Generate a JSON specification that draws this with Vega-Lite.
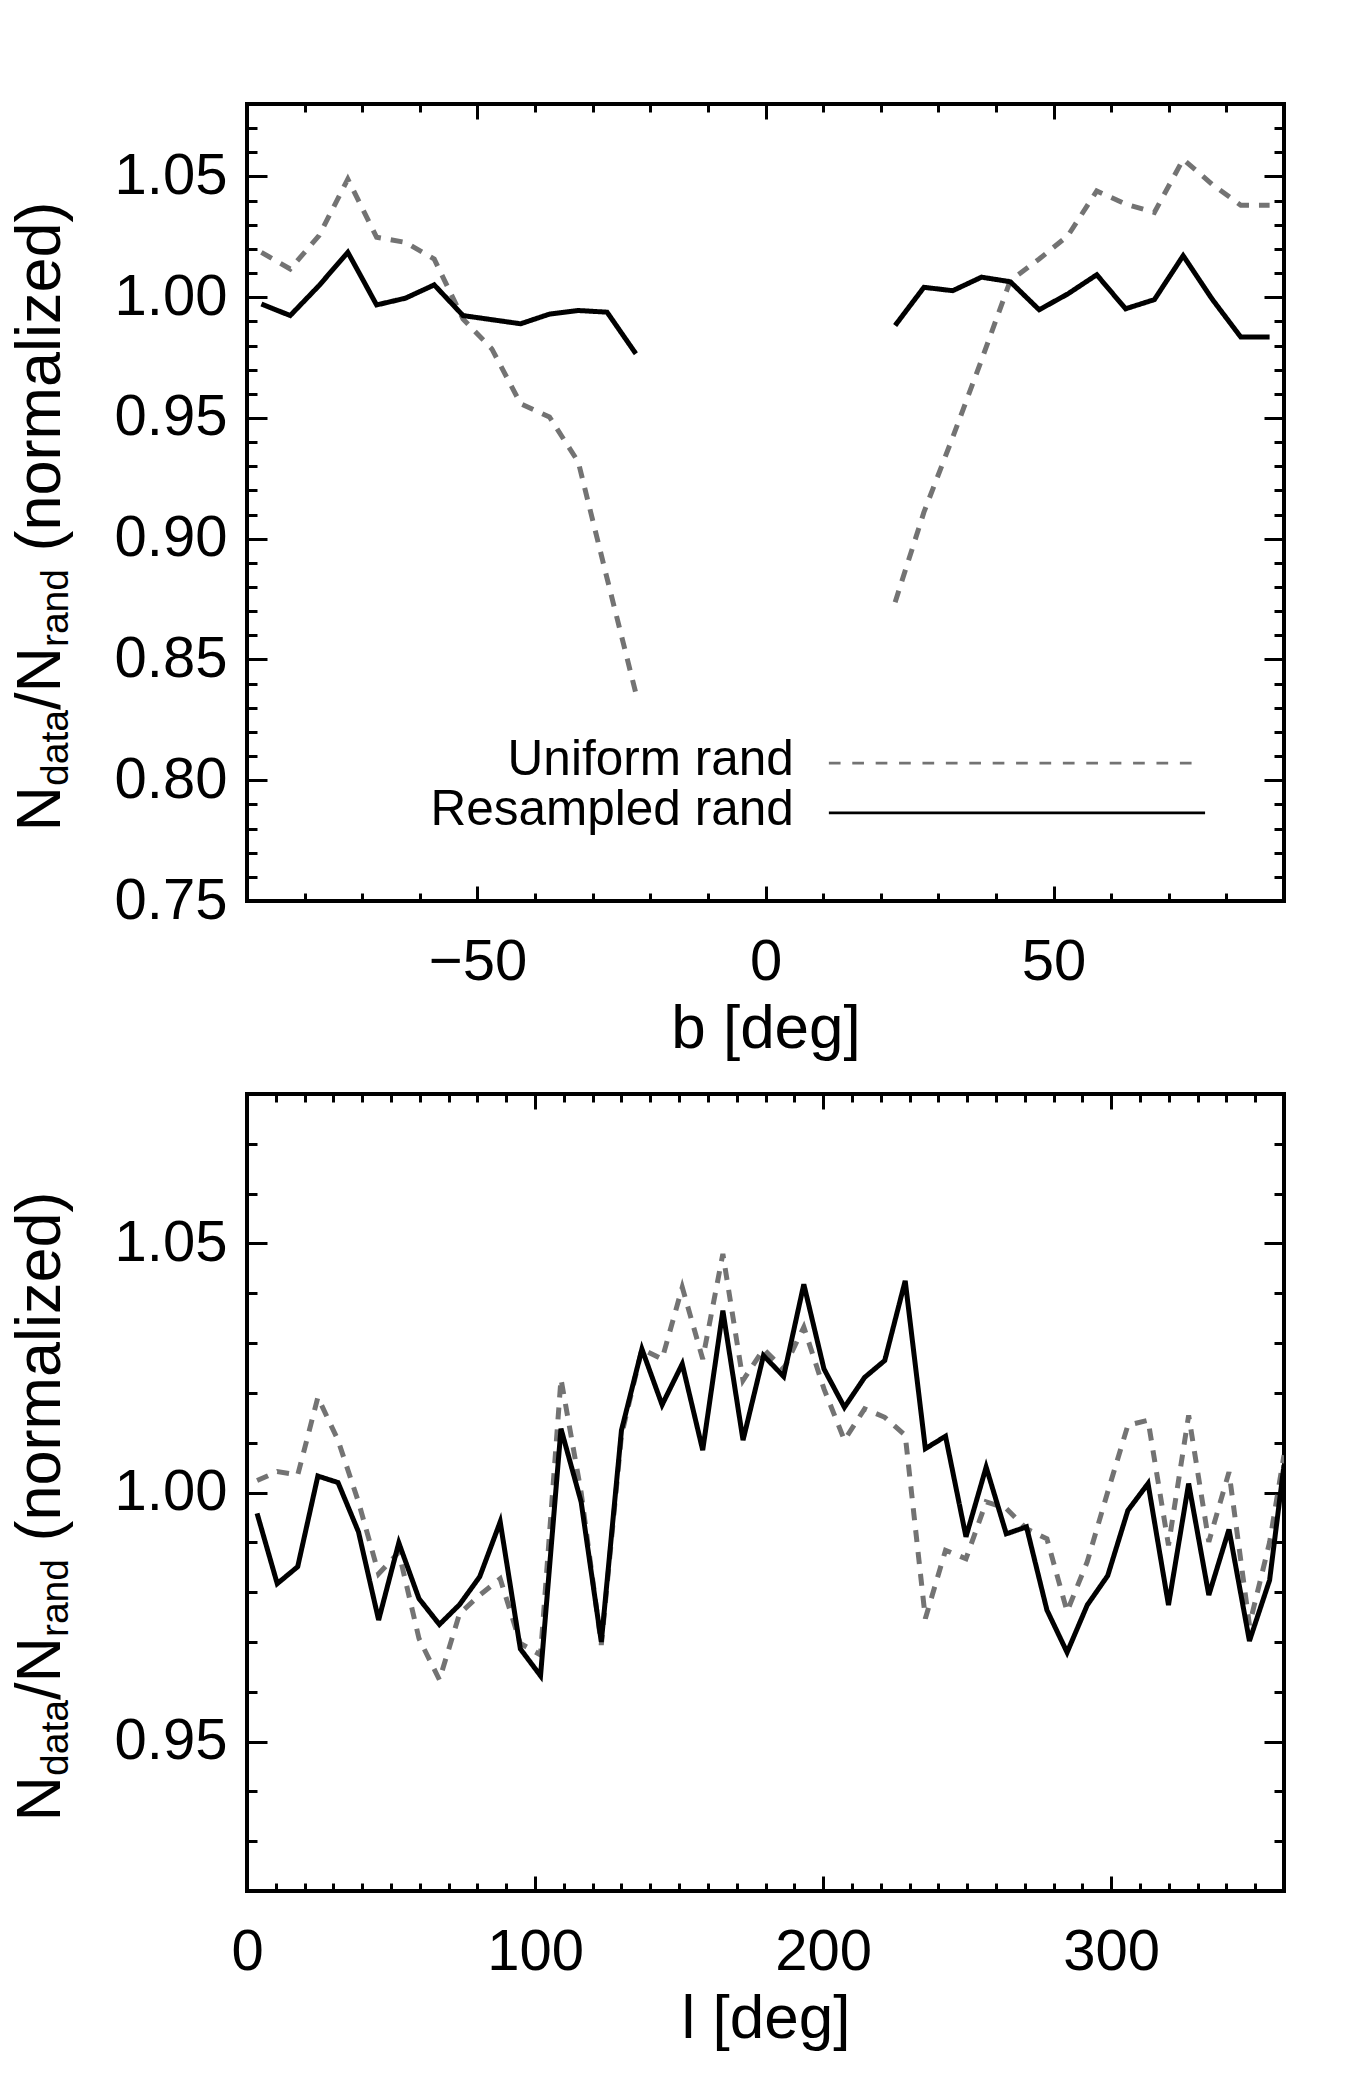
{
  "$schema": "https://vega.github.io/schema/vega-lite/v6.json",
  "background": "white",
  "autosize": {"type": "pad"},
  "padding": {"left": 6, "top": 100, "right": 0, "bottom": 0},
  "spacing": 29,
  "config": {
    "font": "Liberation Sans",
    "view": {"stroke": "#000000", "strokeWidth": 4},
    "axis": {
      "labelFont": "Liberation Sans", "titleFont": "Liberation Sans",
      "labelColor": "#000000", "titleColor": "#000000", "tickColor": "#000000",
      "tickWidth": 3, "grid": false, "domain": false, "labels": false, "ticks": false,
      "labelFlush": false, "labelOverlap": false, "titleFontWeight": "normal"
    }
  },
  "datasets": {
    "lat": [
      {"b": -87.5, "side": "S", "series": "Uniform rand", "ratio": 1.0186},
      {"b": -82.5, "side": "S", "series": "Uniform rand", "ratio": 1.0117},
      {"b": -77.5, "side": "S", "series": "Uniform rand", "ratio": 1.0255},
      {"b": -72.5, "side": "S", "series": "Uniform rand", "ratio": 1.0489},
      {"b": -67.5, "side": "S", "series": "Uniform rand", "ratio": 1.0248},
      {"b": -62.5, "side": "S", "series": "Uniform rand", "ratio": 1.0227},
      {"b": -57.5, "side": "S", "series": "Uniform rand", "ratio": 1.0158},
      {"b": -52.5, "side": "S", "series": "Uniform rand", "ratio": 0.991},
      {"b": -47.5, "side": "S", "series": "Uniform rand", "ratio": 0.9786},
      {"b": -42.5, "side": "S", "series": "Uniform rand", "ratio": 0.9559},
      {"b": -37.5, "side": "S", "series": "Uniform rand", "ratio": 0.9504},
      {"b": -32.5, "side": "S", "series": "Uniform rand", "ratio": 0.9318},
      {"b": -27.5, "side": "S", "series": "Uniform rand", "ratio": 0.8836},
      {"b": -22.5, "side": "S", "series": "Uniform rand", "ratio": 0.836},
      {"b": 22.5, "side": "N", "series": "Uniform rand", "ratio": 0.8737},
      {"b": 27.5, "side": "N", "series": "Uniform rand", "ratio": 0.911},
      {"b": 32.5, "side": "N", "series": "Uniform rand", "ratio": 0.942},
      {"b": 37.5, "side": "N", "series": "Uniform rand", "ratio": 0.974},
      {"b": 42.5, "side": "N", "series": "Uniform rand", "ratio": 1.0069},
      {"b": 47.5, "side": "N", "series": "Uniform rand", "ratio": 1.0158},
      {"b": 52.5, "side": "N", "series": "Uniform rand", "ratio": 1.0255},
      {"b": 57.5, "side": "N", "series": "Uniform rand", "ratio": 1.044},
      {"b": 62.5, "side": "N", "series": "Uniform rand", "ratio": 1.0386},
      {"b": 67.5, "side": "N", "series": "Uniform rand", "ratio": 1.0351},
      {"b": 72.5, "side": "N", "series": "Uniform rand", "ratio": 1.0571},
      {"b": 77.5, "side": "N", "series": "Uniform rand", "ratio": 1.0468},
      {"b": 82.5, "side": "N", "series": "Uniform rand", "ratio": 1.0381},
      {"b": 87.5, "side": "N", "series": "Uniform rand", "ratio": 1.0381},
      {"b": -87.5, "side": "S", "series": "Resampled rand", "ratio": 0.9972},
      {"b": -82.5, "side": "S", "series": "Resampled rand", "ratio": 0.9924},
      {"b": -77.5, "side": "S", "series": "Resampled rand", "ratio": 1.0048},
      {"b": -72.5, "side": "S", "series": "Resampled rand", "ratio": 1.0186},
      {"b": -67.5, "side": "S", "series": "Resampled rand", "ratio": 0.9968},
      {"b": -62.5, "side": "S", "series": "Resampled rand", "ratio": 0.9996},
      {"b": -57.5, "side": "S", "series": "Resampled rand", "ratio": 1.0051},
      {"b": -52.5, "side": "S", "series": "Resampled rand", "ratio": 0.9924},
      {"b": -47.5, "side": "S", "series": "Resampled rand", "ratio": 0.9907},
      {"b": -42.5, "side": "S", "series": "Resampled rand", "ratio": 0.989},
      {"b": -37.5, "side": "S", "series": "Resampled rand", "ratio": 0.993},
      {"b": -32.5, "side": "S", "series": "Resampled rand", "ratio": 0.9945},
      {"b": -27.5, "side": "S", "series": "Resampled rand", "ratio": 0.9938},
      {"b": -22.5, "side": "S", "series": "Resampled rand", "ratio": 0.9766},
      {"b": 22.5, "side": "N", "series": "Resampled rand", "ratio": 0.9883},
      {"b": 27.5, "side": "N", "series": "Resampled rand", "ratio": 1.0041},
      {"b": 32.5, "side": "N", "series": "Resampled rand", "ratio": 1.0027},
      {"b": 37.5, "side": "N", "series": "Resampled rand", "ratio": 1.0083},
      {"b": 42.5, "side": "N", "series": "Resampled rand", "ratio": 1.0064},
      {"b": 47.5, "side": "N", "series": "Resampled rand", "ratio": 0.9948},
      {"b": 52.5, "side": "N", "series": "Resampled rand", "ratio": 1.0014},
      {"b": 57.5, "side": "N", "series": "Resampled rand", "ratio": 1.0093},
      {"b": 62.5, "side": "N", "series": "Resampled rand", "ratio": 0.9952},
      {"b": 67.5, "side": "N", "series": "Resampled rand", "ratio": 0.999},
      {"b": 72.5, "side": "N", "series": "Resampled rand", "ratio": 1.0172},
      {"b": 77.5, "side": "N", "series": "Resampled rand", "ratio": 0.9993},
      {"b": 82.5, "side": "N", "series": "Resampled rand", "ratio": 0.9835},
      {"b": 87.5, "side": "N", "series": "Resampled rand", "ratio": 0.9835}
    ],
    "lon": [
      {"l": 3.5, "series": "Uniform rand", "ratio": 1.0024},
      {"l": 10.5, "series": "Uniform rand", "ratio": 1.0042},
      {"l": 17.6, "series": "Uniform rand", "ratio": 1.0035},
      {"l": 24.6, "series": "Uniform rand", "ratio": 1.0191},
      {"l": 31.6, "series": "Uniform rand", "ratio": 1.0105},
      {"l": 38.7, "series": "Uniform rand", "ratio": 0.9981},
      {"l": 45.7, "series": "Uniform rand", "ratio": 0.9837},
      {"l": 52.7, "series": "Uniform rand", "ratio": 0.988},
      {"l": 59.7, "series": "Uniform rand", "ratio": 0.9707},
      {"l": 66.8, "series": "Uniform rand", "ratio": 0.9624},
      {"l": 73.8, "series": "Uniform rand", "ratio": 0.9757},
      {"l": 80.8, "series": "Uniform rand", "ratio": 0.9794},
      {"l": 87.9, "series": "Uniform rand", "ratio": 0.9827},
      {"l": 94.9, "series": "Uniform rand", "ratio": 0.9697},
      {"l": 101.9, "series": "Uniform rand", "ratio": 0.9674},
      {"l": 109.0, "series": "Uniform rand", "ratio": 1.0228},
      {"l": 116.0, "series": "Uniform rand", "ratio": 1.0},
      {"l": 123.0, "series": "Uniform rand", "ratio": 0.9694},
      {"l": 130.0, "series": "Uniform rand", "ratio": 1.0115},
      {"l": 137.1, "series": "Uniform rand", "ratio": 1.0288},
      {"l": 144.1, "series": "Uniform rand", "ratio": 1.0268},
      {"l": 151.1, "series": "Uniform rand", "ratio": 1.0412},
      {"l": 158.2, "series": "Uniform rand", "ratio": 1.0268},
      {"l": 165.2, "series": "Uniform rand", "ratio": 1.0479},
      {"l": 172.2, "series": "Uniform rand", "ratio": 1.0225},
      {"l": 179.3, "series": "Uniform rand", "ratio": 1.0288},
      {"l": 186.3, "series": "Uniform rand", "ratio": 1.0248},
      {"l": 193.3, "series": "Uniform rand", "ratio": 1.0332},
      {"l": 200.3, "series": "Uniform rand", "ratio": 1.0208},
      {"l": 207.4, "series": "Uniform rand", "ratio": 1.0105},
      {"l": 214.4, "series": "Uniform rand", "ratio": 1.0168},
      {"l": 221.4, "series": "Uniform rand", "ratio": 1.0151},
      {"l": 228.5, "series": "Uniform rand", "ratio": 1.0115},
      {"l": 235.5, "series": "Uniform rand", "ratio": 0.9747},
      {"l": 242.5, "series": "Uniform rand", "ratio": 0.9884},
      {"l": 249.6, "series": "Uniform rand", "ratio": 0.9867},
      {"l": 256.6, "series": "Uniform rand", "ratio": 0.9981},
      {"l": 263.6, "series": "Uniform rand", "ratio": 0.9968},
      {"l": 270.6, "series": "Uniform rand", "ratio": 0.9927},
      {"l": 277.7, "series": "Uniform rand", "ratio": 0.9907},
      {"l": 284.7, "series": "Uniform rand", "ratio": 0.9761},
      {"l": 291.7, "series": "Uniform rand", "ratio": 0.9861},
      {"l": 298.8, "series": "Uniform rand", "ratio": 1.0001},
      {"l": 305.8, "series": "Uniform rand", "ratio": 1.0135},
      {"l": 312.8, "series": "Uniform rand", "ratio": 1.0145},
      {"l": 319.9, "series": "Uniform rand", "ratio": 0.9894},
      {"l": 326.9, "series": "Uniform rand", "ratio": 1.0155},
      {"l": 333.9, "series": "Uniform rand", "ratio": 0.9901},
      {"l": 340.9, "series": "Uniform rand", "ratio": 1.0041},
      {"l": 348.0, "series": "Uniform rand", "ratio": 0.9734},
      {"l": 355.0, "series": "Uniform rand", "ratio": 0.99},
      {"l": 360.0, "series": "Uniform rand", "ratio": 1.0075},
      {"l": 3.5, "series": "Resampled rand", "ratio": 0.9958},
      {"l": 10.5, "series": "Resampled rand", "ratio": 0.9817},
      {"l": 17.6, "series": "Resampled rand", "ratio": 0.9851},
      {"l": 24.6, "series": "Resampled rand", "ratio": 1.0033},
      {"l": 31.6, "series": "Resampled rand", "ratio": 1.002},
      {"l": 38.7, "series": "Resampled rand", "ratio": 0.9921},
      {"l": 45.7, "series": "Resampled rand", "ratio": 0.9744},
      {"l": 52.7, "series": "Resampled rand", "ratio": 0.9899},
      {"l": 59.7, "series": "Resampled rand", "ratio": 0.9787},
      {"l": 66.8, "series": "Resampled rand", "ratio": 0.9735},
      {"l": 73.8, "series": "Resampled rand", "ratio": 0.9775},
      {"l": 80.8, "series": "Resampled rand", "ratio": 0.9831},
      {"l": 87.9, "series": "Resampled rand", "ratio": 0.9941},
      {"l": 94.9, "series": "Resampled rand", "ratio": 0.9686},
      {"l": 101.9, "series": "Resampled rand", "ratio": 0.9632},
      {"l": 109.0, "series": "Resampled rand", "ratio": 1.0128},
      {"l": 116.0, "series": "Resampled rand", "ratio": 0.9981},
      {"l": 123.0, "series": "Resampled rand", "ratio": 0.97},
      {"l": 130.0, "series": "Resampled rand", "ratio": 1.0125},
      {"l": 137.1, "series": "Resampled rand", "ratio": 1.0288},
      {"l": 144.1, "series": "Resampled rand", "ratio": 1.0176},
      {"l": 151.1, "series": "Resampled rand", "ratio": 1.0258},
      {"l": 158.2, "series": "Resampled rand", "ratio": 1.0085},
      {"l": 165.2, "series": "Resampled rand", "ratio": 1.0365},
      {"l": 172.2, "series": "Resampled rand", "ratio": 1.0105},
      {"l": 179.3, "series": "Resampled rand", "ratio": 1.0275},
      {"l": 186.3, "series": "Resampled rand", "ratio": 1.0233},
      {"l": 193.3, "series": "Resampled rand", "ratio": 1.0418},
      {"l": 200.3, "series": "Resampled rand", "ratio": 1.0248},
      {"l": 207.4, "series": "Resampled rand", "ratio": 1.0171},
      {"l": 214.4, "series": "Resampled rand", "ratio": 1.0231},
      {"l": 221.4, "series": "Resampled rand", "ratio": 1.0265},
      {"l": 228.5, "series": "Resampled rand", "ratio": 1.0425},
      {"l": 235.5, "series": "Resampled rand", "ratio": 1.0088},
      {"l": 242.5, "series": "Resampled rand", "ratio": 1.0113},
      {"l": 249.6, "series": "Resampled rand", "ratio": 0.9911},
      {"l": 256.6, "series": "Resampled rand", "ratio": 1.0051},
      {"l": 263.6, "series": "Resampled rand", "ratio": 0.9917},
      {"l": 270.6, "series": "Resampled rand", "ratio": 0.9931},
      {"l": 277.7, "series": "Resampled rand", "ratio": 0.9764},
      {"l": 284.7, "series": "Resampled rand", "ratio": 0.9679},
      {"l": 291.7, "series": "Resampled rand", "ratio": 0.9774},
      {"l": 298.8, "series": "Resampled rand", "ratio": 0.9833},
      {"l": 305.8, "series": "Resampled rand", "ratio": 0.9964},
      {"l": 312.8, "series": "Resampled rand", "ratio": 1.0018},
      {"l": 319.9, "series": "Resampled rand", "ratio": 0.9774},
      {"l": 326.9, "series": "Resampled rand", "ratio": 1.0018},
      {"l": 333.9, "series": "Resampled rand", "ratio": 0.9794},
      {"l": 340.9, "series": "Resampled rand", "ratio": 0.9926},
      {"l": 348.0, "series": "Resampled rand", "ratio": 0.9702},
      {"l": 355.0, "series": "Resampled rand", "ratio": 0.9824},
      {"l": 360.0, "series": "Resampled rand", "ratio": 1.0055}
    ]
  },
  "vconcat": [
    {
      "width": 1037,
      "height": 797,
      "data": {"name": "lat"},
      "resolve": {"axis": {"x": "independent", "y": "independent"}},
      "layer": [
        {
          "mark": {"type": "line", "strokeWidth": 5, "clip": true},
          "encoding": {
            "x": {"field": "b", "type": "quantitative",
              "scale": {"domain": [-90, 90], "nice": false, "zero": false},
              "axis": {"orient": "bottom", "values": [-50, 0, 50], "labels": true, "format": "d",
                "labelFontSize": 58, "labelPadding": 32,
                "title": "b [deg]", "titleFontSize": 62, "titleY": 146, "titleBaseline": "alphabetic"}},
            "y": {"field": "ratio", "type": "quantitative",
              "scale": {"domain": [0.75, 1.08], "nice": false, "zero": false},
              "axis": {"orient": "left", "values": [0.75, 0.8, 0.85, 0.9, 0.95, 1.0, 1.05], "labels": true, "format": ".2f",
                "labelFontSize": 58, "labelPadding": 20,
                "title": "N", "titleFontSize": 63, "titleAngle": 270, "titleAlign": "left", "titleBaseline": "alphabetic",
                "titleX": -188, "titleY": 727}},
            "color": {"field": "series", "type": "nominal",
              "scale": {"domain": ["Uniform rand", "Resampled rand"], "range": ["#737373", "#000000"]}, "legend": null},
            "strokeDash": {"field": "series", "type": "nominal",
              "scale": {"domain": ["Uniform rand", "Resampled rand"], "range": [[12, 10], [1, 0]]}, "legend": null},
            "detail": {"field": "side"}
          }
        },
        {
          "mark": {"type": "point", "opacity": 0},
          "encoding": {
            "x": {"field": "b", "type": "quantitative",
              "axis": {"orient": "top", "ticks": true, "title": null,
                "values": [-90, -80, -70, -60, -50, -40, -30, -20, -10, 0, 10, 20, 30, 40, 50, 60, 70, 80, 90],
                "tickSize": {"condition": {"test": "datum.value % 50 == 0", "value": -15}, "value": -8}}},
            "y": {"field": "ratio", "type": "quantitative",
              "axis": {"orient": "right", "ticks": true, "title": null,
                "values": [0.75, 0.76, 0.77, 0.78, 0.79, 0.8, 0.81, 0.82, 0.83, 0.84, 0.85, 0.86, 0.87, 0.88, 0.89, 0.9, 0.91, 0.92, 0.93, 0.94, 0.95, 0.96, 0.97, 0.98, 0.99, 1.0, 1.01, 1.02, 1.03, 1.04, 1.05, 1.06, 1.07, 1.08],
                "tickSize": {"condition": {"test": "abs(round(datum.value * 100) % 5) == 0", "value": -20}, "value": -10}}}
          }
        },
        {
          "mark": {"type": "point", "opacity": 0},
          "encoding": {
            "x": {"field": "b", "type": "quantitative",
              "axis": {"orient": "bottom", "ticks": true, "title": null,
                "values": [-90, -80, -70, -60, -50, -40, -30, -20, -10, 0, 10, 20, 30, 40, 50, 60, 70, 80, 90],
                "tickSize": {"condition": {"test": "datum.value % 50 == 0", "value": -15}, "value": -8}}},
            "y": {"field": "ratio", "type": "quantitative",
              "axis": {"orient": "left", "ticks": true,
                "values": [0.75, 0.76, 0.77, 0.78, 0.79, 0.8, 0.81, 0.82, 0.83, 0.84, 0.85, 0.86, 0.87, 0.88, 0.89, 0.9, 0.91, 0.92, 0.93, 0.94, 0.95, 0.96, 0.97, 0.98, 0.99, 1.0, 1.01, 1.02, 1.03, 1.04, 1.05, 1.06, 1.07, 1.08],
                "tickSize": {"condition": {"test": "abs(round(datum.value * 100) % 5) == 0", "value": -20}, "value": -10},
                "title": "data", "titleFontSize": 39, "titleAngle": 270, "titleAlign": "left", "titleBaseline": "alphabetic",
                "titleX": -180, "titleY": 681.5}}
          }
        },
        {
          "mark": {"type": "point", "opacity": 0},
          "encoding": {
            "x": {"field": "b", "type": "quantitative", "axis": null},
            "y": {"field": "ratio", "type": "quantitative",
              "axis": {"orient": "left", "title": "/N", "titleFontSize": 63, "titleAngle": 270, "titleAlign": "left",
                "titleBaseline": "alphabetic", "titleX": -188, "titleY": 605.6}}
          }
        },
        {
          "mark": {"type": "point", "opacity": 0},
          "encoding": {
            "x": {"field": "b", "type": "quantitative", "axis": null},
            "y": {"field": "ratio", "type": "quantitative",
              "axis": {"orient": "left", "title": "rand", "titleFontSize": 39, "titleAngle": 270, "titleAlign": "left",
                "titleBaseline": "alphabetic", "titleX": -180, "titleY": 542.6}}
          }
        },
        {
          "mark": {"type": "point", "opacity": 0},
          "encoding": {
            "x": {"field": "b", "type": "quantitative", "axis": null},
            "y": {"field": "ratio", "type": "quantitative",
              "axis": {"orient": "left", "title": "(normalized)", "titleFontSize": 63, "titleAngle": 270, "titleAlign": "left",
                "titleBaseline": "alphabetic", "titleX": -188, "titleY": 447.1}}
          }
        },
        {
          "data": {"values": [{"series": "Uniform rand"}]},
          "mark": {"type": "rule", "color": "#737373", "strokeWidth": 2.7, "strokeDash": [11.7, 11.7]},
          "encoding": {
            "x": {"datum": 11.0, "type": "quantitative", "axis": null},
            "x2": {"datum": 74.4},
            "y": {"datum": 0.8071, "type": "quantitative", "axis": null}
          }
        },
        {
          "data": {"values": [{"series": "Resampled rand"}]},
          "mark": {"type": "rule", "color": "#000000", "strokeWidth": 2.7},
          "encoding": {
            "x": {"datum": 11.0, "type": "quantitative", "axis": null},
            "x2": {"datum": 76.3},
            "y": {"datum": 0.7865, "type": "quantitative", "axis": null}
          }
        },
        {
          "data": {"values": [{"series": "Uniform rand"}]},
          "mark": {"type": "text", "align": "right", "baseline": "alphabetic", "fontSize": 49.5, "font": "Liberation Sans", "color": "#000000"},
          "encoding": {
            "x": {"datum": 4.9, "type": "quantitative", "axis": null},
            "y": {"datum": 0.8022, "type": "quantitative", "axis": null},
            "text": {"field": "series"}
          }
        },
        {
          "data": {"values": [{"series": "Resampled rand"}]},
          "mark": {"type": "text", "align": "right", "baseline": "alphabetic", "fontSize": 49.5, "font": "Liberation Sans", "color": "#000000"},
          "encoding": {
            "x": {"datum": 4.9, "type": "quantitative", "axis": null},
            "y": {"datum": 0.7816, "type": "quantitative", "axis": null},
            "text": {"field": "series"}
          }
        }
      ]
    },
    {
      "width": 1037,
      "height": 797,
      "data": {"name": "lon"},
      "resolve": {"axis": {"x": "independent", "y": "independent"}},
      "layer": [
        {
          "mark": {"type": "line", "strokeWidth": 5, "clip": true},
          "encoding": {
            "x": {"field": "l", "type": "quantitative",
              "scale": {"domain": [0, 360], "nice": false, "zero": false},
              "axis": {"orient": "bottom", "values": [0, 100, 200, 300], "labels": true, "format": "d",
                "labelFontSize": 58, "labelPadding": 32,
                "title": "l [deg]", "titleFontSize": 62, "titleY": 146, "titleBaseline": "alphabetic"}},
            "y": {"field": "ratio", "type": "quantitative",
              "scale": {"domain": [0.92, 1.08], "nice": false, "zero": false},
              "axis": {"orient": "left", "values": [0.95, 1.0, 1.05], "labels": true, "format": ".2f",
                "labelFontSize": 58, "labelPadding": 20,
                "title": "N", "titleFontSize": 63, "titleAngle": 270, "titleAlign": "left", "titleBaseline": "alphabetic",
                "titleX": -188, "titleY": 727}},
            "color": {"field": "series", "type": "nominal",
              "scale": {"domain": ["Uniform rand", "Resampled rand"], "range": ["#737373", "#000000"]}, "legend": null},
            "strokeDash": {"field": "series", "type": "nominal",
              "scale": {"domain": ["Uniform rand", "Resampled rand"], "range": [[12, 10], [1, 0]]}, "legend": null}
          }
        },
        {
          "mark": {"type": "point", "opacity": 0},
          "encoding": {
            "x": {"field": "l", "type": "quantitative",
              "axis": {"orient": "top", "ticks": true, "title": null,
                "values": [0, 10, 20, 30, 40, 50, 60, 70, 80, 90, 100, 110, 120, 130, 140, 150, 160, 170, 180, 190, 200, 210, 220, 230, 240, 250, 260, 270, 280, 290, 300, 310, 320, 330, 340, 350, 360],
                "tickSize": {"condition": {"test": "datum.value % 100 == 0", "value": -15}, "value": -8}}},
            "y": {"field": "ratio", "type": "quantitative",
              "axis": {"orient": "right", "ticks": true, "title": null,
                "values": [0.92, 0.93, 0.94, 0.95, 0.96, 0.97, 0.98, 0.99, 1.0, 1.01, 1.02, 1.03, 1.04, 1.05, 1.06, 1.07, 1.08],
                "tickSize": {"condition": {"test": "abs(round(datum.value * 100) % 5) == 0", "value": -20}, "value": -10}}}
          }
        },
        {
          "mark": {"type": "point", "opacity": 0},
          "encoding": {
            "x": {"field": "l", "type": "quantitative",
              "axis": {"orient": "bottom", "ticks": true, "title": null,
                "values": [0, 10, 20, 30, 40, 50, 60, 70, 80, 90, 100, 110, 120, 130, 140, 150, 160, 170, 180, 190, 200, 210, 220, 230, 240, 250, 260, 270, 280, 290, 300, 310, 320, 330, 340, 350, 360],
                "tickSize": {"condition": {"test": "datum.value % 100 == 0", "value": -15}, "value": -8}}},
            "y": {"field": "ratio", "type": "quantitative",
              "axis": {"orient": "left", "ticks": true,
                "values": [0.92, 0.93, 0.94, 0.95, 0.96, 0.97, 0.98, 0.99, 1.0, 1.01, 1.02, 1.03, 1.04, 1.05, 1.06, 1.07, 1.08],
                "tickSize": {"condition": {"test": "abs(round(datum.value * 100) % 5) == 0", "value": -20}, "value": -10},
                "title": "data", "titleFontSize": 39, "titleAngle": 270, "titleAlign": "left", "titleBaseline": "alphabetic",
                "titleX": -180, "titleY": 681.5}}
          }
        },
        {
          "mark": {"type": "point", "opacity": 0},
          "encoding": {
            "x": {"field": "l", "type": "quantitative", "axis": null},
            "y": {"field": "ratio", "type": "quantitative",
              "axis": {"orient": "left", "title": "/N", "titleFontSize": 63, "titleAngle": 270, "titleAlign": "left",
                "titleBaseline": "alphabetic", "titleX": -188, "titleY": 605.6}}
          }
        },
        {
          "mark": {"type": "point", "opacity": 0},
          "encoding": {
            "x": {"field": "l", "type": "quantitative", "axis": null},
            "y": {"field": "ratio", "type": "quantitative",
              "axis": {"orient": "left", "title": "rand", "titleFontSize": 39, "titleAngle": 270, "titleAlign": "left",
                "titleBaseline": "alphabetic", "titleX": -180, "titleY": 542.6}}
          }
        },
        {
          "mark": {"type": "point", "opacity": 0},
          "encoding": {
            "x": {"field": "l", "type": "quantitative", "axis": null},
            "y": {"field": "ratio", "type": "quantitative",
              "axis": {"orient": "left", "title": "(normalized)", "titleFontSize": 63, "titleAngle": 270, "titleAlign": "left",
                "titleBaseline": "alphabetic", "titleX": -188, "titleY": 447.1}}
          }
        }
      ]
    }
  ]
}
